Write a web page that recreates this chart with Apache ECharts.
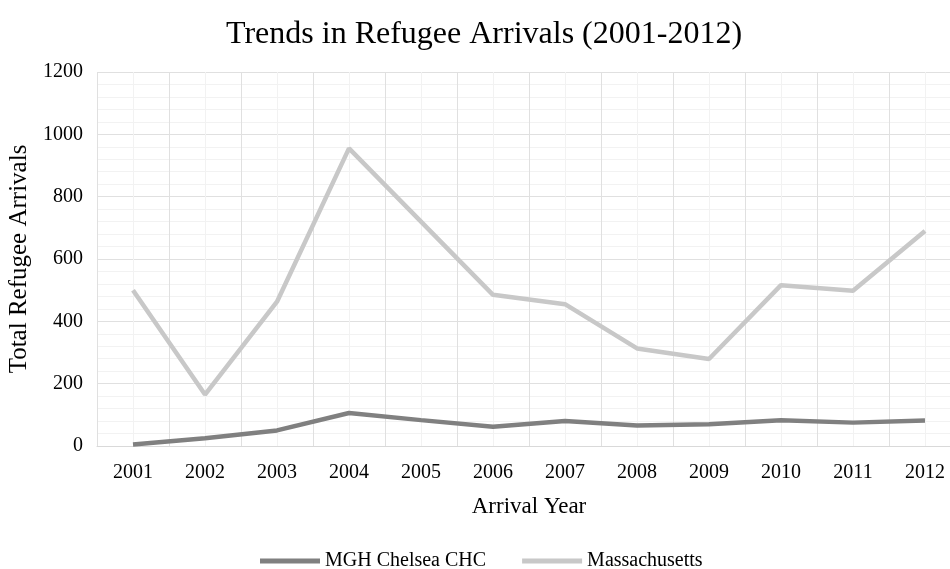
<!DOCTYPE html>
<html>
<head>
<meta charset="utf-8">
<script src="https://cdn.jsdelivr.net/npm/echarts@6/dist/echarts.min.js"></script>
<style>
  html, body { margin: 0; padding: 0; background: #fff; }
  #chart { width: 950px; height: 569px; }
</style>
</head>
<body>
<div id="chart"></div>
<script>
// arrival years (categories)
var years = ['2001', '2002', '2003', '2004', '2005', '2006', '2007', '2008', '2009', '2010', '2011', '2012'];
// half-year slots, only used to draw the lighter minor grid lines
var halfSlots = [];
years.forEach(function (y) { halfSlots.push(y + 'a', y + 'b'); });

var mghChelsea = [5, 25, 50, 106, 83, 62, 80, 66, 70, 83, 75, 82];
var massachusetts = [500, 165, 463, 955, 720, 485, 455, 313, 279, 516, 498, 690];

var yTicks = [0, 200, 400, 600, 800, 1000, 1200];

var font = '"Liberation Serif", "DejaVu Serif", serif';

var chart = echarts.init(document.getElementById('chart'));

var option = {
    backgroundColor: '#ffffff',
    textStyle: { fontFamily: font },
    title: {
        text: 'Trends in Refugee Arrivals (2001-2012)',
        left: 221,
        top: 14,
        textStyle: { fontFamily: font, fontSize: 32, fontWeight: 'normal', color: '#000' }
    },
    legend: {
        bottom: -7,
        left: 255,
        itemWidth: 60,
        itemHeight: 5,
        itemGap: 36,
        icon: 'rect',
        textStyle: { fontFamily: font, fontSize: 20, color: '#000' },
        data: ['MGH Chelsea CHC', 'Massachusetts']
    },
    grid: { left: 97, right: -11, top: 72, bottom: 123, outerBoundsMode: 'none', containLabel: false },
    xAxis: [
        {
            // minor grid: lines at category boundaries and centres
            type: 'category',
            position: 'bottom',
            data: halfSlots,
            boundaryGap: true,
            axisLine: { show: false },
            axisTick: { show: false },
            axisLabel: { show: false },
            splitLine: { show: true, interval: 0, lineStyle: { color: '#f2f2f2', width: 1 } }
        },
        {
            type: 'category',
            position: 'bottom',
            data: years,
            boundaryGap: true,
            name: 'Arrival Year',
            nameLocation: 'middle',
            nameGap: 49,
            nameTextStyle: { fontFamily: font, fontSize: 23, color: '#000' },
            axisLine: { show: true, lineStyle: { color: '#d9d9d9', width: 1 } },
            axisTick: { show: false },
            axisLabel: { fontFamily: font, fontSize: 20, color: '#000', margin: 17 },
            splitLine: { show: true, interval: 0, lineStyle: { color: '#e0e0e0', width: 1 } }
        }
    ],
    yAxis: {
        type: 'value',
        min: yTicks[0],
        max: yTicks[yTicks.length - 1],
        interval: 200,
        name: 'Total Refugee Arrivals',
        nameLocation: 'middle',
        nameRotate: 90,
        nameGap: 63,
        nameTextStyle: { fontFamily: font, fontSize: 25, color: '#000' },
        axisLine: { show: false },
        axisTick: { show: false },
        axisLabel: {
            fontFamily: font, fontSize: 20, color: '#000', margin: 14,
            formatter: function (v) { return String(v); }
        },
        splitLine: { lineStyle: { color: '#e0e0e0', width: 1 } },
        minorTick: { show: false, splitNumber: 5 },
        minorSplitLine: { show: true, lineStyle: { color: '#f2f2f2', width: 1 } }
    },
    series: [
        {
            name: 'MGH Chelsea CHC',
            type: 'line',
            xAxisIndex: 1,
            data: mghChelsea,
            symbol: 'none',
            color: '#808080',
            lineStyle: { width: 4.5, color: '#808080' }
        },
        {
            name: 'Massachusetts',
            type: 'line',
            xAxisIndex: 1,
            data: massachusetts,
            symbol: 'none',
            color: '#c8c8c8',
            lineStyle: { width: 4.5, color: '#c8c8c8' }
        }
    ]
};

chart.setOption(option);
</script>
</body>
</html>
